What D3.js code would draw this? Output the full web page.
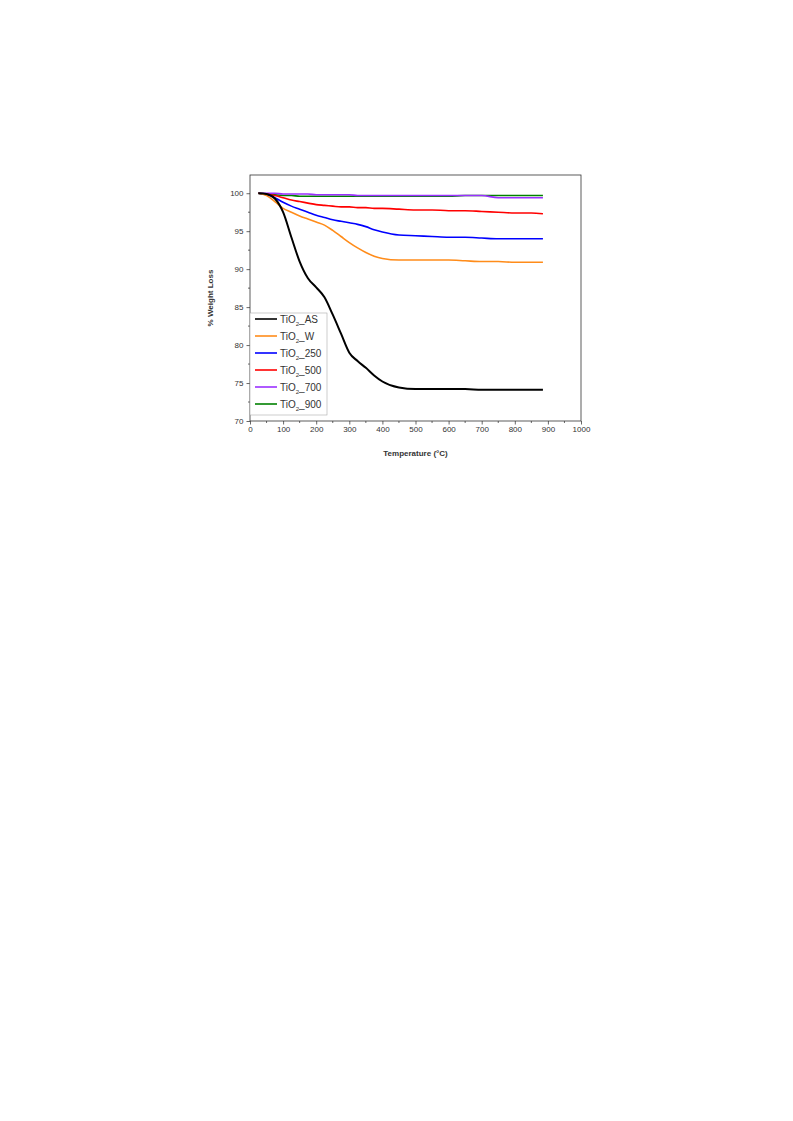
<!DOCTYPE html><html><head><meta charset="utf-8"><script src="https://cdn.jsdelivr.net/npm/d3@7"></script>
<style>body{margin:0;background:#fff}</style></head><body><svg id="c" width="793" height="1121"></svg><script>
const temps=[25,50,75,100,125,150,175,200,225,250,275,300,325,350,375,400,450,500,550,600,650,700,750,800,850,885];
const seriesNames=["AS","W","250","500","700","900"];
const colors=["#000000","#ff8c1a","#0000ff","#ff0000","#9b30ff","#008000"];
const vAS=[100,99.9,99.3,97.5,94.2,91.0,88.8,87.6,86.3,84.0,81.5,79.0,77.9,77.0,76.0,75.2,74.4,74.2,74.2,74.2,74.2,74.1,74.1,74.1,74.1,74.1];
const vW=[100,99.7,98.9,98.0,97.5,97.0,96.6,96.2,95.8,95.1,94.3,93.5,92.8,92.2,91.7,91.4,91.2,91.2,91.2,91.2,91.1,91.0,91.0,90.9,90.9,90.9];
const v250=[100,99.8,99.4,98.8,98.3,97.9,97.5,97.1,96.8,96.5,96.3,96.1,95.9,95.6,95.2,94.9,94.5,94.4,94.3,94.2,94.2,94.1,94.0,94.0,94.0,94.0];
const v500=[100,99.9,99.7,99.4,99.1,98.9,98.7,98.5,98.4,98.3,98.2,98.2,98.1,98.1,98.0,98.0,97.9,97.8,97.8,97.7,97.7,97.6,97.5,97.4,97.4,97.3];
const v700=[100,100,100,99.9,99.9,99.9,99.9,99.8,99.8,99.8,99.8,99.8,99.7,99.7,99.7,99.7,99.7,99.7,99.7,99.7,99.7,99.7,99.4,99.4,99.4,99.4];
const v900=[100,99.9,99.8,99.7,99.7,99.6,99.6,99.6,99.6,99.6,99.6,99.6,99.6,99.6,99.6,99.6,99.6,99.6,99.6,99.6,99.7,99.7,99.7,99.7,99.7,99.7];
const values=[vAS,vW,v250,v500,v700,v900];
const xTicks=[0,100,200,300,400,500,600,700,800,900,1000];
const yTicks=[70,75,80,85,90,95,100];
const svg=d3.select("#c");
const L=250,R=581,T=175,B=421;
const x=d3.scaleLinear().domain([0,1000]).range([L,R]);
const y=d3.scaleLinear().domain([70,102.4]).range([B,T]);
const g=svg.append("g").style("font-family","Liberation Sans, Arial").style("font-size","7.5px");
d3.range(50,1000,100).forEach(t=>g.append("line").attr("x1",x(t)).attr("x2",x(t)).attr("y1",B).attr("y2",B+2).attr("stroke","#000").attr("stroke-width",0.6));
d3.range(72.5,102,5).forEach(t=>g.append("line").attr("x1",L).attr("x2",L-2).attr("y1",y(t)).attr("y2",y(t)).attr("stroke","#000").attr("stroke-width",0.6));
const xa=g.append("g").attr("transform",`translate(0,${B})`).call(d3.axisBottom(x).tickValues(xTicks).tickFormat(d3.format("d")).tickSize(3.5).tickPadding(2));
const ya=g.append("g").attr("transform",`translate(${L},0)`).call(d3.axisLeft(y).tickValues(yTicks).tickFormat(d3.format("d")).tickSize(3.5).tickPadding(3));
[xa,ya].forEach(a=>{a.attr("font-family",null).attr("font-size",null);a.selectAll("text").style("font-size","8px").attr("fill","#333");a.select(".domain").remove();a.selectAll("line").attr("stroke-width",0.6);});
g.append("rect").attr("x",L).attr("y",T).attr("width",R-L).attr("height",B-T).attr("fill","none").attr("stroke","#333").attr("stroke-width",0.8);
const line=d3.line().x((d,i)=>x(temps[i])).y(d=>y(d)).curve(d3.curveMonotoneX);
[5,4,3,2,1,0].forEach(k=>g.append("path").datum(values[k]).attr("d",line).attr("fill","none").attr("stroke",colors[k]).attr("stroke-width",k==0?2:1.6));
const lg=g.append("g");
lg.append("rect").attr("x",L).attr("y",313).attr("width",77).attr("height",102).attr("fill","#fff").attr("stroke","#aaa").attr("stroke-width",0.6);
seriesNames.forEach((n,i)=>{const yy=319+i*17;
lg.append("line").attr("x1",L+5).attr("x2",L+27).attr("y1",yy).attr("y2",yy).attr("stroke",colors[i]).attr("stroke-width",1.6);
const t=lg.append("text").attr("x",L+30).attr("y",yy+3.5).style("font-size","10px").attr("fill","#333");
t.append("tspan").text("TiO");t.append("tspan").attr("dy",3).style("font-size","6px").text("2");t.append("tspan").attr("dy",-3).text("_"+n);});
g.append("text").attr("x",(L+R)/2).attr("y",456).attr("text-anchor","middle").style("font-size","8px").style("font-weight","bold").attr("fill","#333").text("Temperature (°C)");
g.append("text").attr("transform",`translate(213,${(T+B)/2}) rotate(-90)`).attr("text-anchor","middle").style("font-size","8px").style("font-weight","bold").attr("fill","#333").text("% Weight Loss");
</script></body></html>
